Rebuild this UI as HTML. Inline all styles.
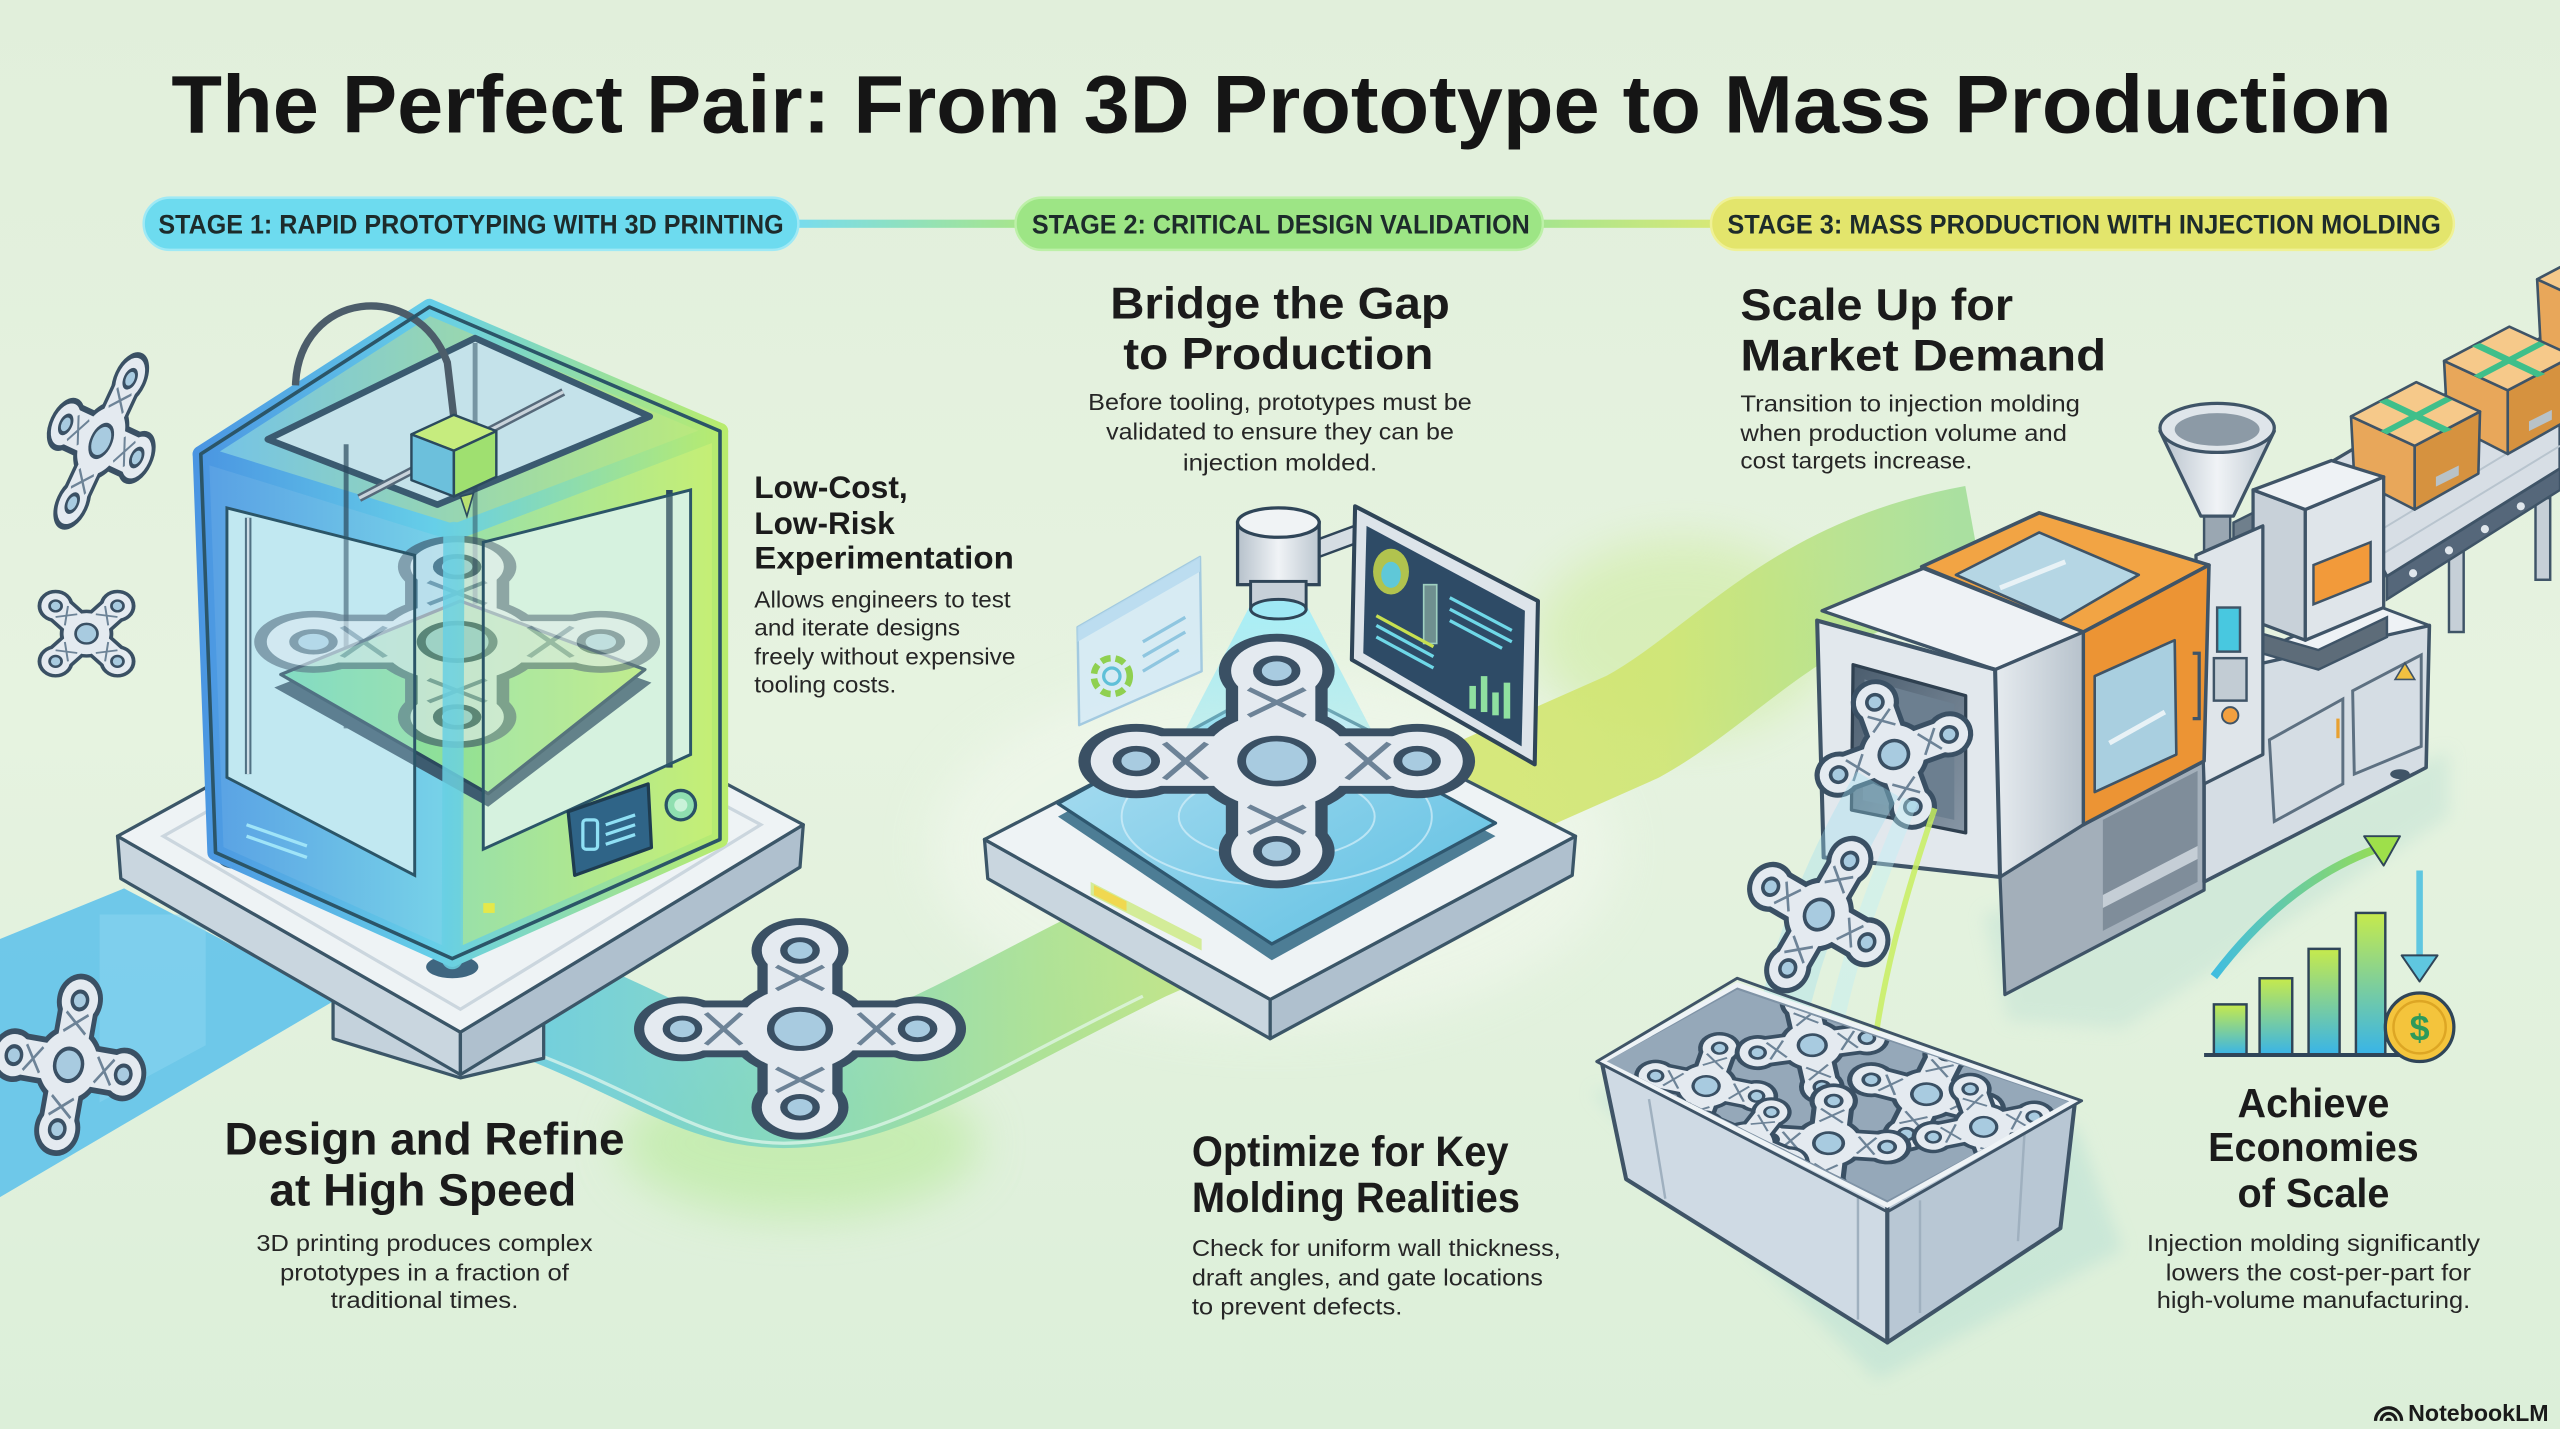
<!DOCTYPE html>
<html><head><meta charset="utf-8"><style>
html,body{margin:0;padding:0;background:#e2f0dc;overflow:hidden}
svg{display:block}
text{font-family:"Liberation Sans",sans-serif}
</style></head><body>
<svg width="2560" height="1429" viewBox="0 0 1568 875" preserveAspectRatio="none" xmlns="http://www.w3.org/2000/svg">
<defs>
 <linearGradient id="bg" x1="0" y1="0" x2="0" y2="1"><stop offset="0" stop-color="#e1efdb"/><stop offset="0.5" stop-color="#e6f3e0"/><stop offset="1" stop-color="#dcefd9"/></linearGradient>
 <linearGradient id="c1" gradientUnits="userSpaceOnUse" x1="488" y1="0" x2="622" y2="0"><stop offset="0" stop-color="#78dcee"/><stop offset="1" stop-color="#a6e58e"/></linearGradient>
 <linearGradient id="c2" gradientUnits="userSpaceOnUse" x1="945" y1="0" x2="1048" y2="0"><stop offset="0" stop-color="#a6e58e"/><stop offset="1" stop-color="#d6e878"/></linearGradient>
 <linearGradient id="rib" gradientUnits="userSpaceOnUse" x1="300" y1="0" x2="1200" y2="0">
  <stop offset="0" stop-color="#5fc8e2"/><stop offset="0.2" stop-color="#7fd6c0"/><stop offset="0.38" stop-color="#a8e08c"/>
  <stop offset="0.6" stop-color="#d6e66c"/><stop offset="0.8" stop-color="#cfe570"/><stop offset="1" stop-color="#a2de98"/></linearGradient>
 <linearGradient id="gBlue" x1="0" y1="0" x2="1" y2="0"><stop offset="0" stop-color="#589fe4"/><stop offset="1" stop-color="#78d4e8"/></linearGradient>
 <linearGradient id="gGreen" x1="0" y1="0" x2="1" y2="0"><stop offset="0" stop-color="#98e0aa"/><stop offset="1" stop-color="#c6ef74"/></linearGradient>
 <linearGradient id="gTop" x1="0" y1="0" x2="1" y2="0"><stop offset="0" stop-color="#72c2ea"/><stop offset="1" stop-color="#bdeb78"/></linearGradient>
 <linearGradient id="gFrame" gradientUnits="userSpaceOnUse" x1="120" y1="0" x2="445" y2="0"><stop offset="0" stop-color="#4a95e2"/><stop offset="0.45" stop-color="#66cfe8"/><stop offset="1" stop-color="#b9ec6c"/></linearGradient>
 <linearGradient id="gBed" x1="0" y1="0" x2="1" y2="0"><stop offset="0" stop-color="#6fd8b4"/><stop offset="1" stop-color="#b9ea76"/></linearGradient>
 <linearGradient id="gPlate" x1="0" y1="0" x2="1" y2="1"><stop offset="0" stop-color="#b2e0f2"/><stop offset="1" stop-color="#5cbfe2"/></linearGradient>
 <linearGradient id="gCone" x1="0" y1="0" x2="0" y2="1"><stop offset="0" stop-color="#a8eef8" stop-opacity="0.95"/><stop offset="1" stop-color="#8fe3f0" stop-opacity="0.35"/></linearGradient>
 <linearGradient id="gMetal" x1="0" y1="0" x2="1" y2="0"><stop offset="0" stop-color="#b6c1cb"/><stop offset="0.5" stop-color="#f0f3f6"/><stop offset="1" stop-color="#bcc7d0"/></linearGradient>
 <linearGradient id="gSide" x1="0" y1="0" x2="1" y2="0"><stop offset="0" stop-color="#e6ebef"/><stop offset="1" stop-color="#b7c2cc"/></linearGradient>
 <linearGradient id="gDark" x1="0" y1="0" x2="1" y2="1"><stop offset="0" stop-color="#4a5c6d"/><stop offset="1" stop-color="#8796a5"/></linearGradient>
 <linearGradient id="gBar" x1="0" y1="1" x2="0" y2="0"><stop offset="0" stop-color="#38b4e8"/><stop offset="1" stop-color="#c6ea4c"/></linearGradient>
 <linearGradient id="gArrow" gradientUnits="userSpaceOnUse" x1="1356" y1="0" x2="1466" y2="0"><stop offset="0" stop-color="#40bde0"/><stop offset="1" stop-color="#9ee04a"/></linearGradient>
 <filter id="blur" x="-50%" y="-50%" width="200%" height="200%"><feGaussianBlur stdDeviation="14"/></filter>
 <filter id="blur2" x="-50%" y="-50%" width="200%" height="200%"><feGaussianBlur stdDeviation="5"/></filter>
 <clipPath id="binclip"><polygon points="984,650 1064,606 1268,675 1156,735"/></clipPath>
 <g id="xp">
  <g fill="#3a5064" stroke="#3a5064" stroke-width="7" stroke-linejoin="round">
   <rect x="-47" y="-11" width="94" height="22" rx="11"/>
   <rect x="-11" y="-47" width="22" height="94" rx="11"/>
   <circle r="21"/>
   <circle cx="-40" r="13"/><circle cx="40" r="13"/><circle cy="-40" r="13"/><circle cy="40" r="13"/>
  </g>
  <g fill="#e4eaf0">
   <rect x="-47" y="-11" width="94" height="22" rx="11"/>
   <rect x="-11" y="-47" width="22" height="94" rx="11"/>
   <circle r="21"/>
   <circle cx="-40" r="13"/><circle cx="40" r="13"/><circle cy="-40" r="13"/><circle cy="40" r="13"/>
  </g>
  <g stroke="#6d8397" stroke-width="1.8" fill="none">
   <path d="M-32 -8 L-20 8 M-32 8 L-20 -8 M32 -8 L20 8 M32 8 L20 -8 M-8 -32 L8 -20 M8 -32 L-8 -20 M-8 32 L8 20 M8 32 L-8 20"/>
  </g>
  <g fill="#a8cbe0" stroke="#3a5064" stroke-width="2.5">
   <circle r="10"/>
   <circle cx="-40" r="5.5"/><circle cx="40" r="5.5"/><circle cy="-40" r="5.5"/><circle cy="40" r="5.5"/>
  </g>
 </g>
 <g id="box">
  <polygon points="0,21 39,39 39,78 2,59" fill="#e8a75a" stroke="#3f5467" stroke-width="1.6" stroke-linejoin="round"/>
  <polygon points="39,39 79,18 78,56 39,78" fill="#d6923f" stroke="#3f5467" stroke-width="1.6" stroke-linejoin="round"/>
  <polygon points="0,21 40,0 79,18 39,39" fill="#f6c98a" stroke="#3f5467" stroke-width="1.6" stroke-linejoin="round"/>
  <polygon points="17,12 22,10 62,29 57,31" fill="#3fbf8a"/>
  <polygon points="18,30 58,9 62,11 22,32" fill="#3fbf8a"/>
  <polygon points="52,58 66,51 66,57 52,64" fill="#b8c2c8"/>
 </g>
</defs>

<rect x="0" y="0" width="1568" height="875" fill="url(#bg)"/>

<!-- soft glows -->
<ellipse cx="490" cy="700" rx="110" ry="45" fill="#b6ea98" opacity="0.6" filter="url(#blur)"/>
<ellipse cx="1030" cy="390" rx="90" ry="60" fill="#c8ea8c" opacity="0.45" filter="url(#blur)"/>
<ellipse cx="780" cy="520" rx="210" ry="110" fill="#f2f8ee" opacity="0.6" filter="url(#blur)"/>

<!-- Title -->
<text x="105" y="81" font-size="50" font-weight="700" textLength="1360" lengthAdjust="spacingAndGlyphs" fill="#151515">The Perfect Pair: From 3D Prototype to Mass Production</text>

<!-- Stage pills -->
<rect x="488" y="134.5" width="136" height="5" fill="url(#c1)"/>
<rect x="943" y="134.5" width="107" height="5" fill="url(#c2)"/>
<rect x="88" y="121" width="401" height="32" rx="16" fill="#6ddbef" stroke="#9fe9f5" stroke-width="1.5"/>
<rect x="622" y="121" width="323" height="32" rx="16" fill="#9de585" stroke="#bdf0a8" stroke-width="1.5"/>
<rect x="1048" y="121" width="455" height="32" rx="16" fill="#e3e56c" stroke="#eff196" stroke-width="1.5"/>
<text x="97" y="143" font-size="16.5" font-weight="700" textLength="383" lengthAdjust="spacingAndGlyphs" fill="#1d2b2b">STAGE 1: RAPID PROTOTYPING WITH 3D PRINTING</text>
<text x="632" y="143" font-size="16.5" font-weight="700" textLength="305" lengthAdjust="spacingAndGlyphs" fill="#1d2b2b">STAGE 2: CRITICAL DESIGN VALIDATION</text>
<text x="1058" y="143" font-size="16.5" font-weight="700" textLength="437" lengthAdjust="spacingAndGlyphs" fill="#1d2b2b">STAGE 3: MASS PRODUCTION WITH INJECTION MOLDING</text>

<!-- Ribbons -->
<polygon points="0,575 76,544 206,612 0,733" fill="#62c3ea" opacity="0.9"/>
<polygon points="61,560 126,560 126,640 61,675" fill="#8ad6f0" opacity="0.55"/>
<path d="M 320 610 C 400 640, 430 668, 480 668 C 540 668, 590 632, 700 578 L 1000 445 C 1060 412, 1100 352, 1210 332" fill="none" stroke="url(#rib)" stroke-width="70" opacity="0.88"/>
<path d="M 320 642 C 400 672, 430 700, 480 700 C 540 700, 590 664, 700 610" fill="none" stroke="#e6f8ee" stroke-width="2" opacity="0.7"/>

<!-- floating parts left -->
<use href="#xp" transform="translate(62,270) rotate(25) scale(0.6,1.05)"/>
<use href="#xp" transform="translate(53,388) scale(0.67,0.6) rotate(45)"/>
<use href="#xp" transform="translate(42,652) rotate(10) scale(0.85,1.0)"/>

<!-- ===== PRINTER BASE ===== -->
<polygon points="204,604 282,640 333,622 333,648 282,660 204,636" fill="#c4d2dc" stroke="#3b5668" stroke-width="2" stroke-linejoin="round"/>
<polygon points="72,512 282,632 282,658 74,538" fill="#c9d6df" stroke="#3b5668" stroke-width="2" stroke-linejoin="round"/>
<polygon points="282,632 492,505 490,531 282,658" fill="#afc0ce" stroke="#3b5668" stroke-width="2" stroke-linejoin="round"/>
<polygon points="72,512 285,395 492,505 282,632" fill="#eef3f5" stroke="#3b5668" stroke-width="2" stroke-linejoin="round"/>
<polygon points="100,512 285,408 466,505 282,618" fill="none" stroke="#cbd6de" stroke-width="2"/>

<use href="#xp" transform="translate(490,630) scale(1.8,1.2)"/>

<!-- ===== PRINTER ===== -->
<ellipse cx="277" cy="592" rx="16" ry="7" fill="#3f6680"/>
<ellipse cx="145" cy="527" rx="11" ry="5" fill="#3f6680"/>
<ellipse cx="428" cy="518" rx="10" ry="5" fill="#3f6680"/>
<polygon points="278,326 441,264 441,514 277,587" fill="url(#gGreen)" stroke="url(#gFrame)" stroke-width="10" stroke-linejoin="round"/>
<polygon points="123,278 278,326 277,587 132,522" fill="url(#gBlue)" stroke="url(#gFrame)" stroke-width="10" stroke-linejoin="round"/>
<polygon points="123,278 263,188 441,264 278,326" fill="url(#gTop)" stroke="url(#gFrame)" stroke-width="10" stroke-linejoin="round"/>
<!-- windows -->
<polygon points="139,311 254,340 254,536 139,476" fill="#c2e8f0"/>
<polygon points="296,332 423,300 423,462 340,500 296,520" fill="#d6f2e2"/>
<polygon points="164,269 291,207 398,255 268,309" fill="#c4e2ea" stroke="#3a5a70" stroke-width="4" stroke-linejoin="round"/>
<!-- inner -->
<line x1="152" y1="317" x2="152" y2="474" stroke="#2b4a5e" stroke-width="4"/>
<line x1="152" y1="317" x2="152" y2="474" stroke="#d0dae2" stroke-width="1.5"/>
<line x1="212" y1="272" x2="212" y2="446" stroke="#2b4a5e" stroke-width="3" opacity="0.7"/>
<line x1="410" y1="300" x2="410" y2="470" stroke="#2b4a5e" stroke-width="4"/>
<line x1="291" y1="210" x2="291" y2="370" stroke="#2b4a5e" stroke-width="3" opacity="0.5"/>
<line x1="220" y1="305" x2="345" y2="240" stroke="#56697a" stroke-width="5"/>
<line x1="220" y1="305" x2="345" y2="240" stroke="#c9d3db" stroke-width="2"/>
<!-- bed -->
<polygon points="168,421 282,376 399,418 299,494" fill="#3d5c70"/>
<polygon points="172,413 282,368 395,410 299,486" fill="url(#gBed)" stroke="#2b4a5e" stroke-width="2" stroke-linejoin="round"/>
<use href="#xp" transform="translate(280,393) scale(2.2,1.15)" opacity="0.62"/>
<!-- nozzle -->
<path d="M 181 236 C 183 178, 255 170, 274 222 L 278 256" fill="none" stroke="#4c5d6a" stroke-width="4.5"/>
<polygon points="252,266 278,254 304,264 278,276" fill="#c6ec7e" stroke="#2b4a5e" stroke-width="1.5" stroke-linejoin="round"/>
<polygon points="252,266 278,276 278,304 252,294" fill="#6cc0dc" stroke="#2b4a5e" stroke-width="1.5" stroke-linejoin="round"/>
<polygon points="278,276 304,264 304,292 278,304" fill="#9fe070" stroke="#2b4a5e" stroke-width="1.5" stroke-linejoin="round"/>
<polygon points="282,304 290,302 286,316" fill="#b8e070" stroke="#2b4a5e" stroke-width="1"/>
<!-- glass sheen -->
<polygon points="139,311 254,340 254,536 139,476" fill="#bfe6f4" opacity="0.25"/>
<polygon points="296,332 423,300 423,462 340,500 296,520" fill="#d8f4d8" opacity="0.25"/>
<!-- front edge & outlines -->
<line x1="278" y1="326" x2="277" y2="587" stroke="url(#gFrame)" stroke-width="13" opacity="0.85" stroke-linecap="round"/>
<polygon points="123,278 263,188 441,264 441,514 277,587 132,522" fill="none" stroke="#2b5568" stroke-width="2.2" stroke-linejoin="round"/>
<polygon points="139,311 254,340 254,536 139,476" fill="none" stroke="#2b5568" stroke-width="1.8"/>
<polygon points="296,332 423,300 423,462 340,500 296,520" fill="none" stroke="#2b5568" stroke-width="1.8"/>
<path d="M 151 505 L 188 518 M 151 512 L 188 525" stroke="#9fe4f8" stroke-width="2"/>
<!-- control panel -->
<polygon points="348,497 397,480 399,519 352,536" fill="#2f6487" stroke="#1e3c50" stroke-width="2" stroke-linejoin="round"/>
<rect x="357" y="502" width="9" height="18" rx="2" fill="none" stroke="#8fe0f5" stroke-width="2"/>
<path d="M 371 505 L 389 499 M 371 511 L 389 505 M 371 517 L 389 511" stroke="#8fe0f5" stroke-width="2"/>
<circle cx="417" cy="493" r="9" fill="#8fdfb0" stroke="#2a5266" stroke-width="2"/>
<circle cx="417" cy="493" r="4" fill="#c9f2d8"/>
<rect x="296" y="553" width="7" height="6" fill="#e5e84a"/>

<!-- ===== STAGE 2 ===== -->
<polygon points="603,514 778,612 778,636 605,538" fill="#c9d6df" stroke="#3b5668" stroke-width="2" stroke-linejoin="round"/>
<polygon points="778,612 965,512 963,536 778,636" fill="#afc0ce" stroke="#3b5668" stroke-width="2" stroke-linejoin="round"/>
<polygon points="603,514 785,420 965,512 778,612" fill="#eef3f5" stroke="#3b5668" stroke-width="2" stroke-linejoin="round"/>
<polygon points="648,500 770,433 916,512 779,588" fill="#4d7d95"/>
<polygon points="648,492 770,425 916,504 779,578" fill="url(#gPlate)" stroke="#2f5870" stroke-width="2" stroke-linejoin="round"/>
<ellipse cx="782" cy="500" rx="95" ry="42" fill="none" stroke="#d6f0fa" stroke-width="1.2" opacity="0.7"/>
<ellipse cx="782" cy="500" rx="60" ry="26" fill="none" stroke="#d6f0fa" stroke-width="1.2" opacity="0.7"/>
<polygon points="668,540 736,575 736,582 668,548" fill="#c8e870" opacity="0.7"/>
<polygon points="670,542 690,552 690,558 670,548" fill="#f0d850"/>
<polygon points="765,372 801,372 852,470 714,470" fill="url(#gCone)"/>
<use href="#xp" transform="translate(782,466) scale(2.15,1.38)"/>
<!-- scanner -->
<polygon points="808,330 835,320 835,331 808,341" fill="#d5dde3" stroke="#2f4558" stroke-width="1.5" stroke-linejoin="round"/>
<rect x="758" y="320" width="50" height="38" fill="url(#gMetal)" stroke="#2f4558" stroke-width="2"/>
<ellipse cx="783" cy="320" rx="25" ry="9" fill="#f0f3f5" stroke="#2f4558" stroke-width="2"/>
<rect x="766" y="356" width="34" height="17" fill="#c7d0d8" stroke="#2f4558" stroke-width="1.8"/>
<ellipse cx="783" cy="373" rx="17" ry="6" fill="#9fe8f5" stroke="#2f4558" stroke-width="1.8"/>
<!-- monitor -->
<polygon points="830,310 942,368 940,468 828,404" fill="#dde4ea" stroke="#2f4558" stroke-width="2.5" stroke-linejoin="round"/>
<polygon points="837,322 934,374 932,457 835,400" fill="#2e4b66"/>
<ellipse cx="852" cy="350" rx="11" ry="14" fill="#c8d84a" opacity="0.85"/>
<ellipse cx="852" cy="352" rx="6" ry="8" fill="#5fc8d8"/>
<rect x="872" y="358" width="8" height="36" fill="#6f9090" stroke="#9fd0c0" stroke-width="1"/>
<path d="M 888 366 L 926 386 M 888 373 L 926 393 M 888 380 L 920 397 M 843 383 L 878 402 M 843 390 L 878 409" stroke="#6fd8e8" stroke-width="2"/>
<path d="M 843 377 L 878 396" stroke="#c8e050" stroke-width="2"/>
<rect x="900" y="420" width="4" height="14" fill="#8fe0a0"/>
<rect x="907" y="414" width="4" height="22" fill="#8fe0a0"/>
<rect x="914" y="424" width="4" height="14" fill="#8fe0a0"/>
<rect x="921" y="418" width="4" height="22" fill="#8fe0a0"/>
<!-- floating window -->
<polygon points="660,384 735,341 736,411 661,444" fill="#d6ebf6" opacity="0.9" stroke="#9cc6e0" stroke-width="1.5" stroke-linejoin="round"/>
<polygon points="660,384 735,341 735,350 660,393" fill="#b9dcef" opacity="0.9"/>
<circle cx="681" cy="414" r="11" fill="none" stroke="#8fd050" stroke-width="4" stroke-dasharray="6 3"/>
<circle cx="681" cy="414" r="5" fill="none" stroke="#5fc0d8" stroke-width="2"/>
<path d="M 700 393 L 726 378 M 700 402 L 726 387 M 700 411 L 722 398" stroke="#8fc6e0" stroke-width="2"/>

<!-- ===== STAGE 3 MACHINE ===== -->
<polygon points="1215,560 1350,520 1500,460 1500,500 1300,630 1230,625" fill="#c6e4d6" opacity="0.6" filter="url(#blur2)"/>
<!-- conveyor -->
<rect x="1500" y="335" width="9" height="52" fill="#c6cfd7" stroke="#3f5467" stroke-width="1.5"/>
<rect x="1553" y="305" width="9" height="50" fill="#c6cfd7" stroke="#3f5467" stroke-width="1.5"/>
<polygon points="1426,284 1568,200 1568,287 1462,353" fill="#d7dee5" stroke="#3f5467" stroke-width="2" stroke-linejoin="round"/>
<path d="M 1440 297 L 1568 222 M 1447 312 L 1568 240 M 1454 327 L 1568 258 M 1458 340 L 1568 273" stroke="#b8c4ce" stroke-width="1.2"/>
<polygon points="1462,353 1568,287 1568,300 1462,367" fill="#55677a" stroke="#3f5467" stroke-width="1.5"/>
<circle cx="1478" cy="351" r="2.5" fill="#dfe6ec"/><circle cx="1500" cy="337" r="2.5" fill="#dfe6ec"/><circle cx="1522" cy="324" r="2.5" fill="#dfe6ec"/><circle cx="1544" cy="310" r="2.5" fill="#dfe6ec"/>
<use href="#box" transform="translate(1554,150)"/>
<use href="#box" transform="translate(1497,200)"/>
<use href="#box" transform="translate(1440,234)"/>
<!-- pedestal & recess -->
<polygon points="1225,537 1276,505 1350,466 1350,545 1228,609" fill="#a3afba" stroke="#3f5467" stroke-width="2" stroke-linejoin="round"/>
<polygon points="1288,502 1346,472 1346,540 1288,570" fill="#7f8d9a"/>
<polygon points="1288,548 1346,518 1346,526 1288,556" fill="#c5ced6"/>
<!-- cabinet -->
<polygon points="1350,414 1488,383 1486,470 1350,540" fill="#d5dde4" stroke="#3f5467" stroke-width="2.2" stroke-linejoin="round"/>
<polygon points="1350,414 1386,398 1451,369 1488,383" fill="#eef2f5" stroke="#3f5467" stroke-width="1.8" stroke-linejoin="round"/>
<polygon points="1390,453 1435,428 1435,480 1393,503" fill="none" stroke="#5d7081" stroke-width="1.8"/>
<polygon points="1441,423 1483,401 1483,457 1442,474" fill="none" stroke="#5d7081" stroke-width="1.8"/>
<line x1="1432" y1="440" x2="1432" y2="452" stroke="#e8a030" stroke-width="2"/>
<polygon points="1473,406 1479,416 1467,416" fill="#f0c040" stroke="#3f5467" stroke-width="1"/>
<ellipse cx="1470" cy="474" rx="6" ry="3" fill="#3f5467"/>
<!-- injection unit -->
<polygon points="1375,385 1420,398 1462,378 1462,390 1420,410 1375,397" fill="#5d6c79" stroke="#3f5467" stroke-width="1.5"/>
<polygon points="1368,320 1402,303 1402,362 1368,378" fill="#6f7f8c" stroke="#3f5467" stroke-width="1.5"/>
<polygon points="1380,300 1412,312 1412,392 1380,380" fill="#c8d1d9" stroke="#3f5467" stroke-width="2" stroke-linejoin="round"/>
<polygon points="1412,312 1460,292 1460,372 1412,392" fill="#dfe5ea" stroke="#3f5467" stroke-width="2" stroke-linejoin="round"/>
<polygon points="1380,300 1428,282 1460,292 1412,312" fill="#eef2f5" stroke="#3f5467" stroke-width="2" stroke-linejoin="round"/>
<polygon points="1417,346 1452,332 1452,356 1417,370" fill="#f29a3a" stroke="#3f5467" stroke-width="1.5"/>
<!-- hopper -->
<rect x="1350" y="312" width="16" height="30" fill="#9aa7b2" stroke="#3f5467" stroke-width="1.5"/>
<polygon points="1323,264 1393,264 1368,316 1348,316" fill="url(#gMetal)" stroke="#3f5467" stroke-width="2" stroke-linejoin="round"/>
<ellipse cx="1358" cy="262" rx="35" ry="15" fill="#dfe5ea" stroke="#3f5467" stroke-width="2"/>
<ellipse cx="1358" cy="263" rx="26" ry="10" fill="#8c9aa6"/>
<!-- column / control -->
<polygon points="1345,340 1386,322 1386,462 1350,480" fill="#dfe5ea" stroke="#3f5467" stroke-width="2" stroke-linejoin="round"/>
<rect x="1358" y="372" width="14" height="27" fill="#48c8e0" stroke="#3f5467" stroke-width="1.5"/>
<rect x="1356" y="403" width="20" height="26" fill="#c2ccd4" stroke="#3f5467" stroke-width="1.5"/>
<circle cx="1366" cy="438" r="5" fill="#f2a040" stroke="#3f5467" stroke-width="1.2"/>
<!-- orange enclosure -->
<polygon points="1177,347 1249,314 1353,346 1276,387" fill="#f2a444" stroke="#3f5467" stroke-width="2.2" stroke-linejoin="round"/>
<polygon points="1276,387 1353,346 1350,466 1276,505" fill="#ec9434" stroke="#3f5467" stroke-width="2.2" stroke-linejoin="round"/>
<polygon points="1198,352 1249,326 1310,352 1262,380" fill="#b5d6e4" stroke="#3f5467" stroke-width="1.6" stroke-linejoin="round"/>
<polygon points="1283,414 1332,392 1333,462 1283,485" fill="#a9cfe0" stroke="#3f5467" stroke-width="1.6" stroke-linejoin="round"/>
<line x1="1225" y1="360" x2="1265" y2="344" stroke="#e8f2f6" stroke-width="3"/>
<line x1="1292" y1="455" x2="1326" y2="436" stroke="#e8f2f6" stroke-width="3"/>
<path d="M 1343 400 L 1347 400 L 1347 440 L 1343 440" fill="none" stroke="#3f5467" stroke-width="2"/>
<!-- clamp block -->
<polygon points="1116,374 1178,348 1276,387 1222,410" fill="#eef2f5" stroke="#3f5467" stroke-width="2" stroke-linejoin="round"/>
<polygon points="1222,410 1276,387 1276,505 1225,537" fill="url(#gSide)" stroke="#3f5467" stroke-width="2" stroke-linejoin="round"/>
<polygon points="1113,380 1222,410 1225,537 1117,525" fill="#e2e8ed" stroke="#3f5467" stroke-width="2.5" stroke-linejoin="round"/>
<polygon points="1135,407 1204,426 1204,510 1134,496" fill="url(#gDark)" stroke="#2f4050" stroke-width="2" stroke-linejoin="round"/>
<polygon points="1142,416 1197,431 1197,502 1141,490" fill="#6c7f90"/>
<use href="#xp" transform="translate(1160,462) rotate(-20) scale(0.9,0.85)"/>
<!-- streams -->
<path d="M 1150 480 C 1120 530, 1095 590, 1085 660" fill="none" stroke="#9fe0f0" stroke-width="30" opacity="0.35"/>
<path d="M 1185 495 C 1168 545, 1150 605, 1145 668" fill="none" stroke="#c8ef60" stroke-width="3.5" opacity="0.85"/>
<path d="M 1170 490 C 1150 540, 1125 600, 1118 665" fill="none" stroke="#bff0f8" stroke-width="10" opacity="0.4"/>

<!-- ===== BIN ===== -->
<polygon points="975,668 1150,845 1300,765 1272,690" fill="#b9e0d4" opacity="0.55" filter="url(#blur2)"/>
<polygon points="981,650 1156,738 1156,822 996,722" fill="#cfdae4" stroke="#3f5467" stroke-width="2.5" stroke-linejoin="round"/>
<polygon points="1156,738 1271,674 1262,752 1156,822" fill="#b8c7d4" stroke="#3f5467" stroke-width="2.5" stroke-linejoin="round"/>
<path d="M 1010 673 L 1020 734 M 1138 733 L 1138 808 M 1176 735 L 1176 804 M 1240 694 L 1236 760" stroke="#9fb0bf" stroke-width="1.5"/>
<polygon points="981,650 1064,603 1271,674 1156,738" fill="#7f93a6" stroke="#3f5467" stroke-width="2.5" stroke-linejoin="round"/>
<g clip-path="url(#binclip)">
 <polygon points="984,650 1064,606 1268,675 1156,735" fill="#95a8b9"/>
 <use href="#xp" transform="translate(1045,665) scale(0.8,0.6) rotate(15)"/>
 <use href="#xp" transform="translate(1110,640) scale(0.85,0.65) rotate(-10)"/>
 <use href="#xp" transform="translate(1180,670) scale(0.9,0.65) rotate(20)"/>
 <use href="#xp" transform="translate(1120,700) scale(0.9,0.65) rotate(5)"/>
 <use href="#xp" transform="translate(1215,690) scale(0.8,0.6) rotate(-15)"/>
 <use href="#xp" transform="translate(1070,700) scale(0.75,0.55) rotate(30)"/>
</g>
<polygon points="981,650 1064,603 1271,674 1156,738" fill="none" stroke="#eef3f6" stroke-width="3"/>
<polygon points="978,650 1064,599 1275,674 1156,742" fill="none" stroke="#3f5467" stroke-width="1.8" stroke-linejoin="round"/>
<use href="#xp" transform="translate(1114,560) rotate(30) scale(0.85,0.95)"/>

<!-- ===== CHART ===== -->
<rect x="1356" y="615" width="20" height="31" fill="url(#gBar)" stroke="#2f4558" stroke-width="1.5"/>
<rect x="1384" y="599" width="20" height="47" fill="url(#gBar)" stroke="#2f4558" stroke-width="1.5"/>
<rect x="1414" y="581" width="19" height="65" fill="url(#gBar)" stroke="#2f4558" stroke-width="1.5"/>
<rect x="1443" y="559" width="18" height="87" fill="url(#gBar)" stroke="#2f4558" stroke-width="1.5"/>
<line x1="1350" y1="646" x2="1478" y2="646" stroke="#2f4558" stroke-width="2.5"/>
<path d="M 1356 598 Q 1400 540 1455 520" fill="none" stroke="url(#gArrow)" stroke-width="5"/>
<polygon points="1470,512 1448,512 1460,530" fill="#9ee04a" stroke="#2f4558" stroke-width="1.2" stroke-linejoin="round"/>
<line x1="1482" y1="533" x2="1482" y2="588" stroke="#5fc7e0" stroke-width="4"/>
<polygon points="1471,585 1493,585 1482,601" fill="#5fc7e0" stroke="#2f4558" stroke-width="1.2" stroke-linejoin="round"/>
<circle cx="1482" cy="629" r="21" fill="#f4c43c" stroke="#2f4558" stroke-width="2"/>
<circle cx="1482" cy="629" r="16" fill="none" stroke="#dda624" stroke-width="1.5"/>
<text x="1482" y="637" font-size="22" font-weight="700" text-anchor="middle" fill="#2e9a5a">$</text>

<!-- ===== TEXTS ===== -->
<g fill="#1b1b1b" font-weight="700">
 <text x="462" y="305" font-size="19" textLength="94" lengthAdjust="spacingAndGlyphs">Low-Cost,</text>
 <text x="462" y="327" font-size="19" textLength="86" lengthAdjust="spacingAndGlyphs">Low-Risk</text>
 <text x="462" y="348" font-size="19" textLength="159" lengthAdjust="spacingAndGlyphs">Experimentation</text>
 <text x="784" y="195" font-size="27" text-anchor="middle" textLength="208" lengthAdjust="spacingAndGlyphs">Bridge the Gap</text>
 <text x="783" y="226" font-size="27" text-anchor="middle" textLength="190" lengthAdjust="spacingAndGlyphs">to Production</text>
 <text x="1066" y="196" font-size="27" textLength="167" lengthAdjust="spacingAndGlyphs">Scale Up for</text>
 <text x="1066" y="227" font-size="27" textLength="224" lengthAdjust="spacingAndGlyphs">Market Demand</text>
 <text x="260" y="707" font-size="28" text-anchor="middle" textLength="245" lengthAdjust="spacingAndGlyphs">Design and Refine</text>
 <text x="259" y="738" font-size="28" text-anchor="middle" textLength="188" lengthAdjust="spacingAndGlyphs">at High Speed</text>
 <text x="730" y="714" font-size="26" textLength="194" lengthAdjust="spacingAndGlyphs">Optimize for Key</text>
 <text x="730" y="742" font-size="26" textLength="201" lengthAdjust="spacingAndGlyphs">Molding Realities</text>
 <text x="1417" y="684" font-size="25" text-anchor="middle" textLength="93" lengthAdjust="spacingAndGlyphs">Achieve</text>
 <text x="1417" y="711" font-size="25" text-anchor="middle" textLength="129" lengthAdjust="spacingAndGlyphs">Economies</text>
 <text x="1417" y="739" font-size="25" text-anchor="middle" textLength="93" lengthAdjust="spacingAndGlyphs">of Scale</text>
</g>
<g fill="#262626" font-size="14">
 <text x="462" y="372" textLength="157" lengthAdjust="spacingAndGlyphs">Allows engineers to test</text>
 <text x="462" y="389" textLength="126" lengthAdjust="spacingAndGlyphs">and iterate designs</text>
 <text x="462" y="407" textLength="160" lengthAdjust="spacingAndGlyphs">freely without expensive</text>
 <text x="462" y="424" textLength="87" lengthAdjust="spacingAndGlyphs">tooling costs.</text>
 <text x="784" y="251" text-anchor="middle" textLength="235" lengthAdjust="spacingAndGlyphs">Before tooling, prototypes must be</text>
 <text x="784" y="269" text-anchor="middle" textLength="213" lengthAdjust="spacingAndGlyphs">validated to ensure they can be</text>
 <text x="784" y="288" text-anchor="middle" textLength="119" lengthAdjust="spacingAndGlyphs">injection molded.</text>
 <text x="1066" y="252" textLength="208" lengthAdjust="spacingAndGlyphs">Transition to injection molding</text>
 <text x="1066" y="270" textLength="200" lengthAdjust="spacingAndGlyphs">when production volume and</text>
 <text x="1066" y="287" textLength="142" lengthAdjust="spacingAndGlyphs">cost targets increase.</text>
 <text x="260" y="766" text-anchor="middle" textLength="206" lengthAdjust="spacingAndGlyphs">3D printing produces complex</text>
 <text x="260" y="784" text-anchor="middle" textLength="177" lengthAdjust="spacingAndGlyphs">prototypes in a fraction of</text>
 <text x="260" y="801" text-anchor="middle" textLength="115" lengthAdjust="spacingAndGlyphs">traditional times.</text>
 <text x="730" y="769" textLength="226" lengthAdjust="spacingAndGlyphs">Check for uniform wall thickness,</text>
 <text x="730" y="787" textLength="215" lengthAdjust="spacingAndGlyphs">draft angles, and gate locations</text>
 <text x="730" y="805" textLength="129" lengthAdjust="spacingAndGlyphs">to prevent defects.</text>
 <text x="1417" y="766" text-anchor="middle" textLength="204" lengthAdjust="spacingAndGlyphs">Injection molding significantly</text>
 <text x="1420" y="784" text-anchor="middle" textLength="187" lengthAdjust="spacingAndGlyphs">lowers the cost-per-part for</text>
 <text x="1417" y="801" text-anchor="middle" textLength="192" lengthAdjust="spacingAndGlyphs">high-volume manufacturing.</text>
</g>

<!-- NotebookLM -->
<path d="M 1455 870 A 8 8 0 0 1 1471 870 M 1458.5 870 A 4.5 4.5 0 0 1 1467.5 870 M 1462 870 A 1 1 0 0 1 1464 870" fill="none" stroke="#1a1a1a" stroke-width="2"/>
<text x="1475" y="870" font-size="14" font-weight="700" textLength="86" lengthAdjust="spacingAndGlyphs" fill="#1a1a1a">NotebookLM</text>
</svg>
</body></html>
